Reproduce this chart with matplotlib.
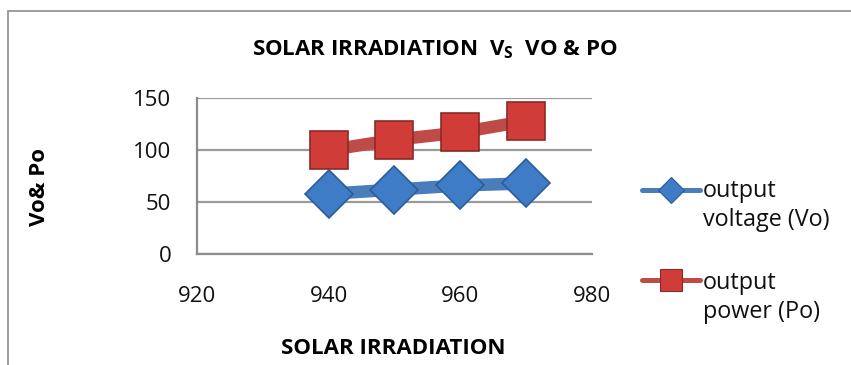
import matplotlib.pyplot as plt
from matplotlib.lines import Line2D
from matplotlib.patches import Rectangle

# Solar irradiation against output voltage and output power
irradiation = [940, 950, 960, 970]
output_voltage = [58, 62, 66, 68]
output_power = [100, 110, 117, 128]

x_ticks = [920, 940, 960, 980]
y_ticks = [0, 50, 100, 150]

plt.rcParams['font.family'] = ['Open Sans', 'DejaVu Sans']

fig = plt.figure(figsize=(8.51, 3.65), dpi=100)
ax = fig.add_axes([0.2315, 0.304, 0.464, 0.427])

# outer chart border (only top and left edges visible)
fig.patches.append(Rectangle((0.0095, -0.1), 1.2, 1.07, transform=fig.transFigure,
                             fill=False, edgecolor='#8c8c8c', linewidth=1.2))

series = [
    dict(y=output_voltage, label='output\nvoltage (Vo)', line='#4A7EBB',
         face='#3E7CC8', edge='#2D5C96', marker='D', ms=24, leg_y=0.479, text_y=0.437),
    dict(y=output_power, label='output\npower (Po)', line='#BE4B48',
         face='#D03C38', edge='#8C2A28', marker='s', ms=28, leg_y=0.233, text_y=0.185),
]

for s in series:
    ax.plot(irradiation, s['y'], color=s['line'], linewidth=9, marker=s['marker'],
            markersize=s['ms'], markerfacecolor=s['face'], markeredgecolor=s['edge'],
            markeredgewidth=1.2, solid_capstyle='butt', zorder=3)
    # legend entry drawn by hand for control over spacing
    fig.add_artist(Line2D([0.754, 0.823], [s['leg_y'], s['leg_y']],
                          transform=fig.transFigure, color=s['line'], linewidth=3.6,
                          solid_capstyle='round'))
    fig.add_artist(Line2D([0.7885], [s['leg_y']], transform=fig.transFigure,
                          marker=s['marker'], markersize=s['ms'] * 0.55,
                          markerfacecolor=s['face'], markeredgecolor=s['edge'],
                          markeredgewidth=0.8, linestyle='none'))
    fig.text(0.826, s['text_y'], s['label'], ha='left', va='center',
             fontsize=16.8, linespacing=1.25, color='#111111')

ax.set_xlim(920, 980)
ax.set_ylim(0, 150)
ax.set_xticks(x_ticks)
ax.set_yticks(y_ticks)
ax.tick_params(axis='both', length=0, labelsize=16, colors='#111111')
ax.tick_params(axis='x', pad=23)
ax.tick_params(axis='y', pad=18.5)

ax.grid(axis='y', color='#9a9a9a', linewidth=1.6)
ax.set_axisbelow(True)
for side in ['top', 'right']:
    ax.spines[side].set_visible(False)
for side in ['left', 'bottom']:
    ax.spines[side].set_color('#8c8c8c')
    ax.spines[side].set_linewidth(1.6)

fig.text(0.511, 0.865, r'SOLAR IRRADIATION  V$_\mathregular{S}$  VO & PO',
         ha='center', va='center', fontsize=16, fontweight='bold')
fig.text(0.462, 0.045, 'SOLAR IRRADIATION', ha='center', va='center',
         fontsize=16, fontweight='bold')
fig.text(0.047, 0.487, 'Vo& Po', ha='center', va='center', rotation=90,
         fontsize=16, fontweight='bold')

fig.savefig('out.png', dpi=100)
